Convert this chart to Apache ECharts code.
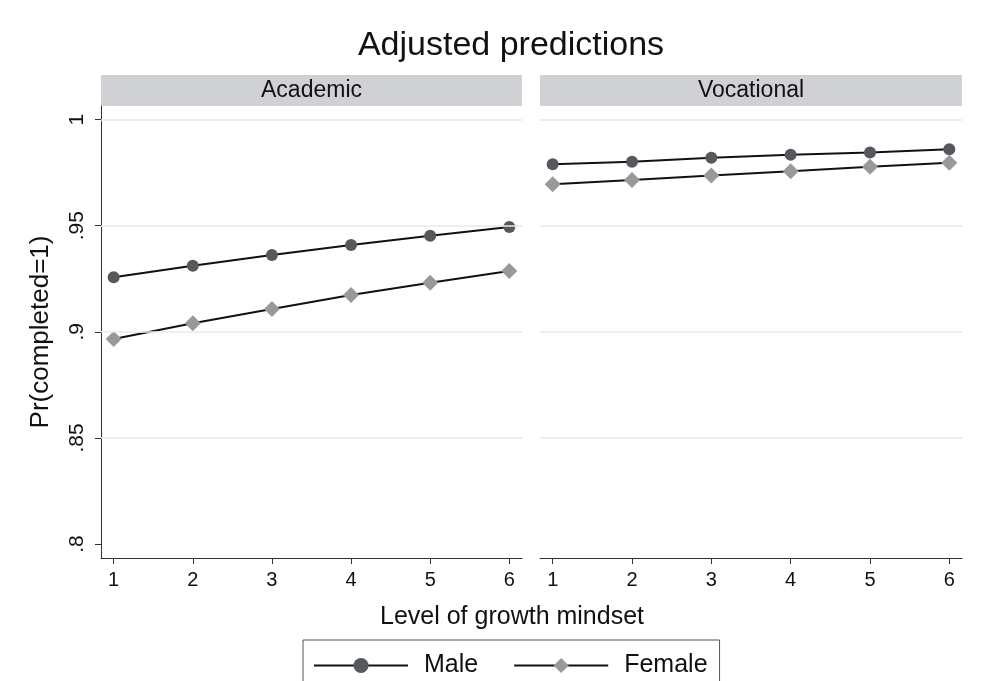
<!DOCTYPE html>
<html>
<head>
<meta charset="utf-8">
<script src="https://cdn.jsdelivr.net/npm/echarts@6/dist/echarts.min.js"></script>
<style>html,body{margin:0;padding:0;background:#fff}#c{width:983px;height:681px}</style>
</head>
<body>
<div id="c"></div>
<script>
const levels = [1, 2, 3, 4, 5, 6];
const panels = ['Academic', 'Vocational'];
const academicMale = [0.9257, 0.9311, 0.9362, 0.9409, 0.9453, 0.9494];
const academicFemale = [0.8966, 0.9040, 0.9107, 0.9173, 0.9231, 0.9286];
const vocationalMale = [0.9789, 0.9801, 0.9820, 0.9834, 0.9845, 0.9860];
const vocationalFemale = [0.9695, 0.9715, 0.9737, 0.9757, 0.9778, 0.9796];
const yTicks = [0.8, 0.85, 0.9, 0.95, 1];
const yGridTicks = [0.85, 0.9, 0.95, 1];
const yTickLabels = ['.8', '.85', '.9', '.95', '1'];

const FONT = 'Liberation Sans, Arial, sans-serif';
const pairs = vals => levels.map((x, i) => [x, vals[i]]);
const labelFor = v => {
  const i = yTicks.findIndex(t => Math.abs(t - v) < 1e-9);
  return i >= 0 ? yTickLabels[i] : '';
};

function xAxisCfg(idx) {
  return {
    type: 'value', gridIndex: idx, min: 0.84, max: 6.16,
    axisLine: { show: true, lineStyle: { color: '#333', width: 1 } },
    axisTick: { show: true, length: 6, lineStyle: { color: '#333' }, customValues: levels },
    axisLabel: { customValues: levels, fontFamily: FONT, fontSize: 20, color: '#111', margin: 12 },
    splitLine: { show: false }
  };
}
function yAxisCfg(idx, showAxis) {
  return {
    type: 'value', gridIndex: idx, min: 0.7934, max: 1.0064,
    name: showAxis ? 'Pr(completed=1)' : '',
    nameLocation: 'middle', nameGap: 47,
    nameTextStyle: { fontFamily: FONT, fontSize: 26, color: '#111' },
    axisLine: { show: showAxis, lineStyle: { color: '#333', width: 1 } },
    axisTick: { show: showAxis, length: 6, lineStyle: { color: '#333' }, customValues: yTicks },
    axisLabel: { show: showAxis, customValues: yTicks, rotate: 90, fontFamily: FONT, fontSize: 21, color: '#111', margin: 13, formatter: labelFor },
    splitLine: { show: false }
  };
}
function lineSeries(name, vals, idx, symbol, color, size) {
  return {
    name: name, type: 'line', xAxisIndex: idx, yAxisIndex: idx,
    data: pairs(vals), symbol: symbol, symbolSize: size, showSymbol: true,
    lineStyle: { color: '#111', width: 2 },
    itemStyle: { color: color, borderWidth: 0 },
    z: 3, animation: false
  };
}
function gridSeries(idx) {
  return {
    name: 'grid' + idx, type: 'line', xAxisIndex: idx, yAxisIndex: idx, data: [],
    z: 1, animation: false,
    markLine: {
      silent: true, symbol: ['none', 'none'], label: { show: false },
      lineStyle: { color: '#e8e8e8', width: 1.5, type: 'solid' },
      data: yGridTicks.map(v => ({ yAxis: v })), animation: false
    }
  };
}

const option = {
  backgroundColor: '#fff',
  animation: false,
  grid: [
    { left: 101, right: 983 - 522, top: 106, bottom: 681 - 558 },
    { left: 540, right: 983 - 962, top: 106, bottom: 681 - 558 }
  ],
  xAxis: [xAxisCfg(0), xAxisCfg(1)],
  yAxis: [yAxisCfg(0, true), yAxisCfg(1, false)],
  legend: {
    data: ['Male', 'Female'],
    left: 303, top: 640,
    padding: [13, 12, 30, 10],
    borderColor: '#555', borderWidth: 1,
    itemWidth: 94, itemHeight: 19, itemGap: 35,
    textStyle: { fontFamily: FONT, fontSize: 25, color: '#111', padding: [0, 0, 0, 11] }
  },
  graphic: [
    { type: 'text', x: 511, y: 46, style: { text: 'Adjusted predictions', font: '34px ' + FONT, fill: '#111', textAlign: 'center', textVerticalAlign: 'middle' } },
    { type: 'rect', shape: { x: 101, y: 75, width: 421, height: 31 }, style: { fill: '#d0d1d4' } },
    { type: 'rect', shape: { x: 540, y: 75, width: 422, height: 31 }, style: { fill: '#d0d1d4' } },
    { type: 'text', x: 311.5, y: 90.5, style: { text: panels[0], font: '23px ' + FONT, fill: '#111', textAlign: 'center', textVerticalAlign: 'middle' } },
    { type: 'text', x: 751, y: 90.5, style: { text: panels[1], font: '23px ' + FONT, fill: '#111', textAlign: 'center', textVerticalAlign: 'middle' } },
    { type: 'text', x: 512, y: 617, style: { text: 'Level of growth mindset', font: '25px ' + FONT, fill: '#111', textAlign: 'center', textVerticalAlign: 'middle' } }
  ],
  series: [
    gridSeries(0), gridSeries(1),
    lineSeries('Male', academicMale, 0, 'circle', '#55585d', 12),
    lineSeries('Female', academicFemale, 0, 'diamond', '#98999c', 16),
    lineSeries('Male', vocationalMale, 1, 'circle', '#55585d', 12),
    lineSeries('Female', vocationalFemale, 1, 'diamond', '#98999c', 16)
  ]
};
const chart = echarts.init(document.getElementById('c'), null, { renderer: 'canvas' });
chart.setOption(option);
</script>
</body>
</html>
